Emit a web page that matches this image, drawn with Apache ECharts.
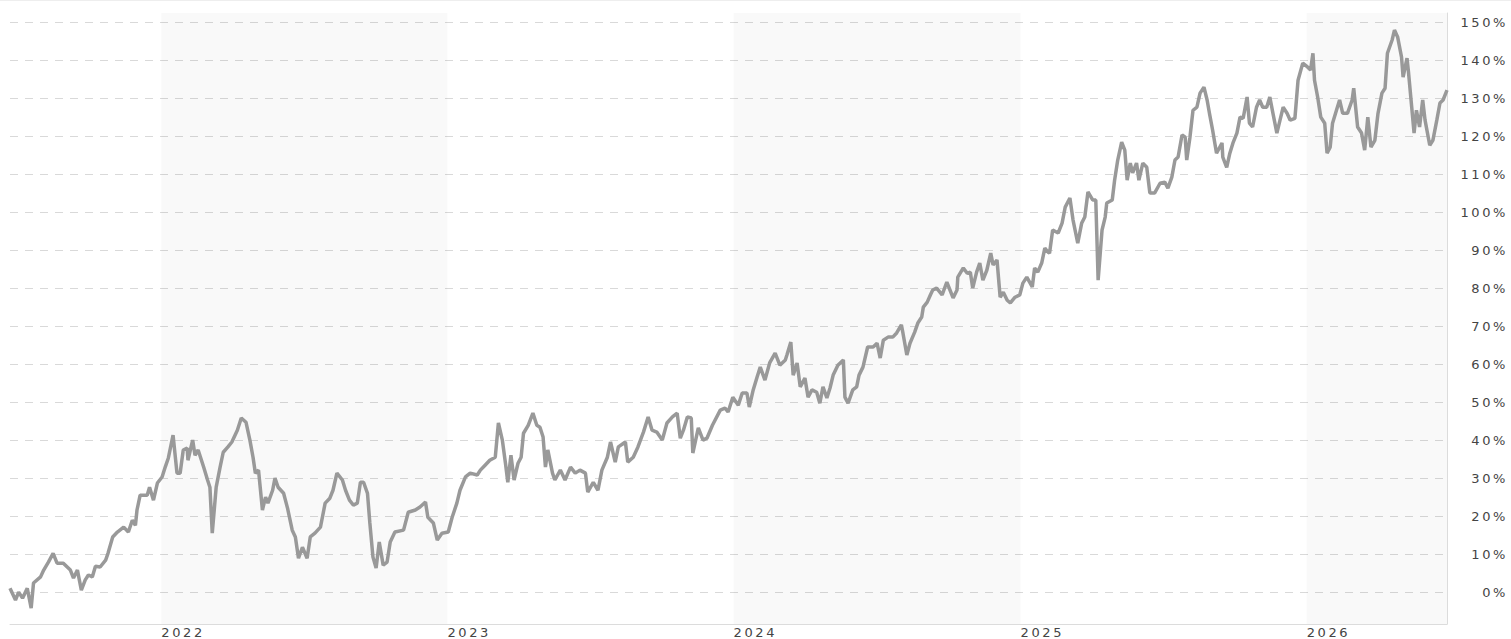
<!DOCTYPE html>
<html>
<head>
<meta charset="utf-8">
<script src="https://cdn.jsdelivr.net/npm/echarts@6/dist/echarts.min.js"></script>
<style>
  html, body { margin: 0; padding: 0; background: #fff; }
  #chart { width: 1511px; height: 639px; }
  #chart text { letter-spacing: 2.6px; }
</style>
</head>
<body>
<div id="chart"></div>
<script>
const dates = [
'2021-06-22','2021-06-29','2021-07-03','2021-07-08','2021-07-14','2021-07-19','2021-07-22','2021-07-31','2021-08-04','2021-08-10',
'2021-08-16','2021-08-21','2021-08-29','2021-09-07','2021-09-11','2021-09-16','2021-09-21','2021-09-26','2021-09-30','2021-10-05',
'2021-10-09','2021-10-15','2021-10-22','2021-10-25','2021-10-31','2021-11-06','2021-11-14','2021-11-20','2021-11-25','2021-11-29',
'2021-12-01','2021-12-05','2021-12-14','2021-12-17','2021-12-22','2021-12-27',
'2022-01-02','2022-01-06','2022-01-10','2022-01-16','2022-01-21','2022-01-25','2022-01-29','2022-02-03','2022-02-04','2022-02-10',
'2022-02-13','2022-02-17','2022-02-24','2022-03-01','2022-03-04','2022-03-07','2022-03-12','2022-03-17','2022-03-21','2022-03-27',
'2022-04-01','2022-04-08','2022-04-13','2022-04-19','2022-04-24','2022-04-28','2022-05-01','2022-05-05','2022-05-10','2022-05-14',
'2022-05-17','2022-05-23','2022-05-26','2022-05-30','2022-06-06','2022-06-11','2022-06-17','2022-06-21','2022-06-25','2022-06-30',
'2022-07-06','2022-07-10','2022-07-16','2022-07-23','2022-07-29','2022-08-04','2022-08-08','2022-08-13','2022-08-20','2022-08-24',
'2022-08-29','2022-09-03','2022-09-08','2022-09-12','2022-09-16','2022-09-21','2022-09-24','2022-09-28','2022-10-02','2022-10-06',
'2022-10-11','2022-10-16','2022-10-20','2022-10-26','2022-11-06','2022-11-12','2022-11-21','2022-11-27','2022-12-04','2022-12-07',
'2022-12-14','2022-12-19','2022-12-25',
'2023-01-02','2023-01-07','2023-01-13','2023-01-17','2023-01-24','2023-01-30','2023-02-08','2023-02-12','2023-02-18','2023-02-24',
'2023-03-03','2023-03-07','2023-03-12','2023-03-16','2023-03-19','2023-03-23','2023-03-27','2023-04-01','2023-04-05','2023-04-08',
'2023-04-14','2023-04-20','2023-04-25','2023-04-29','2023-05-03','2023-05-06','2023-05-09','2023-05-15','2023-05-18','2023-05-25',
'2023-05-31','2023-06-07','2023-06-13','2023-06-19','2023-06-26','2023-06-29','2023-07-06','2023-07-12','2023-07-17','2023-07-24',
'2023-07-28','2023-08-03','2023-08-07','2023-08-16','2023-08-19','2023-08-26','2023-09-01','2023-09-08','2023-09-14','2023-09-19',
'2023-09-25','2023-10-02','2023-10-08','2023-10-15','2023-10-21','2023-10-25','2023-10-29','2023-11-03','2023-11-08','2023-11-10',
'2023-11-17','2023-11-23','2023-11-28','2023-12-05','2023-12-15','2023-12-21','2023-12-25','2023-12-31',
'2024-01-07','2024-01-12','2024-01-18','2024-01-21','2024-01-26','2024-01-31','2024-02-04','2024-02-10','2024-02-16','2024-02-23',
'2024-02-29','2024-03-07','2024-03-09','2024-03-14','2024-03-17','2024-03-22','2024-03-26','2024-04-01','2024-04-05','2024-04-10',
'2024-04-16','2024-04-20','2024-04-24','2024-04-29','2024-05-03','2024-05-07','2024-05-13','2024-05-20','2024-05-22','2024-05-26',
'2024-06-01','2024-06-06','2024-06-09','2024-06-14','2024-06-20','2024-06-27','2024-07-02','2024-07-06','2024-07-10','2024-07-16',
'2024-07-22','2024-07-27','2024-08-02','2024-08-04','2024-08-09','2024-08-13','2024-08-19','2024-08-23','2024-08-28','2024-08-30',
'2024-09-04','2024-09-08','2024-09-11','2024-09-16','2024-09-23','2024-09-29','2024-10-03','2024-10-07','2024-10-12','2024-10-13',
'2024-10-20','2024-10-25','2024-10-29','2024-11-01','2024-11-06','2024-11-10','2024-11-14','2024-11-19','2024-11-24','2024-11-27',
'2024-12-02','2024-12-06','2024-12-10','2024-12-15','2024-12-19','2024-12-25','2024-12-31',
'2025-01-04','2025-01-09','2025-01-16','2025-01-19','2025-01-23','2025-01-28','2025-02-01','2025-02-05','2025-02-07','2025-02-11',
'2025-02-18','2025-02-23','2025-02-27','2025-03-05','2025-03-09','2025-03-15','2025-03-20','2025-03-24','2025-03-28','2025-04-03',
'2025-04-07','2025-04-10','2025-04-15','2025-04-19','2025-04-21','2025-04-28','2025-05-01','2025-05-05','2025-05-10','2025-05-14',
'2025-05-17','2025-05-21','2025-05-24','2025-05-29','2025-06-01','2025-06-06','2025-06-11','2025-06-15','2025-06-21','2025-06-28',
'2025-07-04','2025-07-08','2025-07-13','2025-07-17','2025-07-21','2025-07-26','2025-07-30','2025-08-01','2025-08-05','2025-08-09',
'2025-08-14','2025-08-18','2025-08-23','2025-08-27','2025-08-30','2025-09-03','2025-09-08','2025-09-15','2025-09-16','2025-09-21',
'2025-09-25','2025-09-29','2025-10-04','2025-10-08','2025-10-12','2025-10-17','2025-10-20','2025-10-24','2025-10-29','2025-11-02',
'2025-11-06','2025-11-11','2025-11-15','2025-11-19','2025-11-24','2025-11-28','2025-12-02','2025-12-07','2025-12-11','2025-12-17',
'2025-12-21','2025-12-27',
'2026-01-02','2026-01-06','2026-01-09','2026-01-11','2026-01-15','2026-01-19','2026-01-24','2026-01-27','2026-01-31','2026-02-03',
'2026-02-08','2026-02-12','2026-02-16','2026-02-22','2026-02-28','2026-03-02','2026-03-07','2026-03-12','2026-03-16','2026-03-20',
'2026-03-24','2026-03-29','2026-04-02','2026-04-07','2026-04-11','2026-04-14','2026-04-20','2026-04-23','2026-04-27','2026-05-02',
'2026-05-04','2026-05-09','2026-05-11','2026-05-15','2026-05-18','2026-05-21','2026-05-25','2026-05-29','2026-06-01','2026-06-07',
'2026-06-11','2026-06-16','2026-06-20','2026-06-24','2026-06-29'
];
const values = [
1.0,-2.1,0,-1.6,1,-4.2,2.4,4,5.8,7.9,
10.2,7.6,7.6,5.8,3.7,5.8,0.5,3.2,4.5,4,
6.8,6.6,8.4,10.2,14.5,15.8,17.1,15.8,18.9,17.6,
21.6,25.5,25.5,27.6,24.2,28.7,
30.3,32.9,35.3,41.3,31.3,31.3,37.4,37.9,34.7,40,
36,37.4,32.9,29.5,27.6,15.5,27.6,32.9,36.8,38.2,
39.5,42.6,45.8,44.7,40,35.5,31.3,32.1,21.6,25,
23.4,26.8,30,27.6,26,22.1,16.3,14.5,8.9,11.8,
8.9,14.5,15.5,17.1,23.4,24.7,26.8,31.3,29.5,26.8,
24.2,22.9,23.4,28.9,28.9,26,18.2,9.2,6.3,13.2,
7.1,7.9,13.2,15.8,16.3,21,21.6,22.4,23.7,19.7,
18.2,13.7,15.5,
15.8,19.7,23.4,26.8,30.3,31.3,30.8,32.1,33.4,34.7,
35.5,44.5,40,33.9,28.9,36,29.5,33.9,35.5,41.8,
43.9,47.1,43.9,43.4,40.8,32.9,37.4,31.3,29.5,32.1,
29.5,32.9,31.3,32.1,31.3,26.3,28.9,26.8,32.1,35.5,
39.5,34.2,38.2,39.5,34.2,35.5,38.2,42.1,46.1,42.6,
42.1,40,44.5,46.1,47.1,40.5,42.6,46.1,45.8,36.6,
43.2,40,40.5,43.9,47.9,48.4,47.4,51.3,
49.2,52.4,52.4,48.7,53.2,56.6,59.2,55.8,60.3,62.9,
59.7,61.1,62.4,65.8,57.1,60.3,54,56.3,51.3,53.2,
52.6,49.7,54,51.1,53.7,57.1,59.7,61.1,51.3,49.7,
53.2,54,57.1,59.2,64.5,64.5,65.5,61.6,66.3,67.1,
67.1,68.2,70.3,68.2,62.4,65.5,68.4,70.8,72.4,75,
76.3,78.2,79.5,80,78.2,81.6,79.5,77.4,79.5,82.9,
85.3,83.9,84.2,80,84.2,86.6,82.1,84.7,89.2,86.1,
87.4,77.6,78.9,76.8,76.1,77.6,78.2,
81.3,82.9,80.3,85.3,84.2,86.6,90.5,89.5,89.2,95.3,
94.5,97.1,101.3,103.7,97.9,91.8,97.1,98.7,105.3,103.2,
103.2,82.1,95.3,98.7,102.4,103.2,108.4,113.7,118.4,116.3,
108.4,112.9,110.3,112.9,108.4,112.9,111.8,105,105,107.6,
107.9,106.3,109.2,113.7,114.5,120.3,119.7,113.7,119.5,126.8,
127.6,131.3,132.9,129.5,126,121.6,115.5,118.2,114.5,111.8,
115.5,118.2,120.8,125,124.7,130.3,123.4,122.4,127.6,129.5,
127.6,127.6,130.3,126,120.8,124.2,127.6,126,124.2,124.7,
134.7,139.2,
138.2,137.4,141.8,134.7,130.3,125,123.4,115.5,117.1,123.4,
126.8,129.5,126,126,129.5,132.6,122.4,120.8,116.3,125,
117.1,118.9,126,131.3,132.6,141.8,145.3,147.9,146.1,140.8,
135.5,140.5,136.6,127.6,120.8,126.8,122.4,129.5,124.2,117.6,
118.9,124.2,128.7,129.5,132.1
];
const yTicks = [0,10,20,30,40,50,60,70,80,90,100,110,120,130,140,150];
const yearTicks = ['2022-01-01','2023-01-01','2024-01-01','2025-01-01','2026-01-01'];
const shadedYears = [['2022-01-01','2023-01-01'],['2024-01-01','2025-01-01'],['2026-01-01','2026-06-29']];
const xMin = '2021-06-22';
const xMax = '2026-06-29';

const toTs = s => { const p = s.split('-').map(Number); return new Date(p[0], p[1]-1, p[2]).getTime(); };
const seriesData = dates.map((d, i) => [toTs(d), values[i]]);

const chart = echarts.init(document.getElementById('chart'), null, { renderer: 'svg' });
const labelFont = { fontFamily: 'DejaVu Sans', fontSize: 13, lineHeight: 13, color: '#444' };
chart.setOption({
  animation: false,
  backgroundColor: '#fff',
  grid: { left: 10, right: 64, top: 13, bottom: 15, outerBoundsMode: 'none', containLabel: false },
  xAxis: {
    type: 'value',
    min: toTs(xMin),
    max: toTs(xMax),
    axisLine: { show: true, onZero: false, lineStyle: { color: '#dcdcdc', width: 1 } },
    axisTick: { show: false, customValues: yearTicks.map(toTs) },
    splitLine: { show: false },
    axisLabel: Object.assign({
      customValues: yearTicks.map(toTs),
      align: 'left',
      margin: 2,
      formatter: v => String(new Date(v).getFullYear())
    }, labelFont)
  },
  yAxis: {
    type: 'value',
    position: 'right',
    min: -8.4,
    max: 152.4,
    axisLine: { show: true, lineStyle: { color: '#dcdcdc', width: 1 } },
    axisTick: { show: false, customValues: yTicks },
    splitLine: { show: true, lineStyle: { color: '#d9d9d9', width: 1, type: [8, 7] } },
    axisLabel: Object.assign({
      customValues: yTicks,
      align: 'right',
      margin: 61,
      formatter: v => v + '%'
    }, labelFont)
  },
  graphic: [{
    type: 'line',
    shape: { x1: 0, y1: 0.5, x2: 1511, y2: 0.5 },
    style: { stroke: '#eeeeee', lineWidth: 1 },
    silent: true
  }],
  series: [{
    type: 'line',
    data: seriesData,
    showSymbol: false,
    symbol: 'none',
    silent: true,
    lineStyle: { color: '#999999', width: 3.5 },
    markArea: {
      silent: true,
      itemStyle: { color: 'rgba(0,0,0,0.025)' },
      data: shadedYears.map(r => [{ xAxis: toTs(r[0]) }, { xAxis: toTs(r[1]) }])
    }
  }]
});
</script>
</body>
</html>
